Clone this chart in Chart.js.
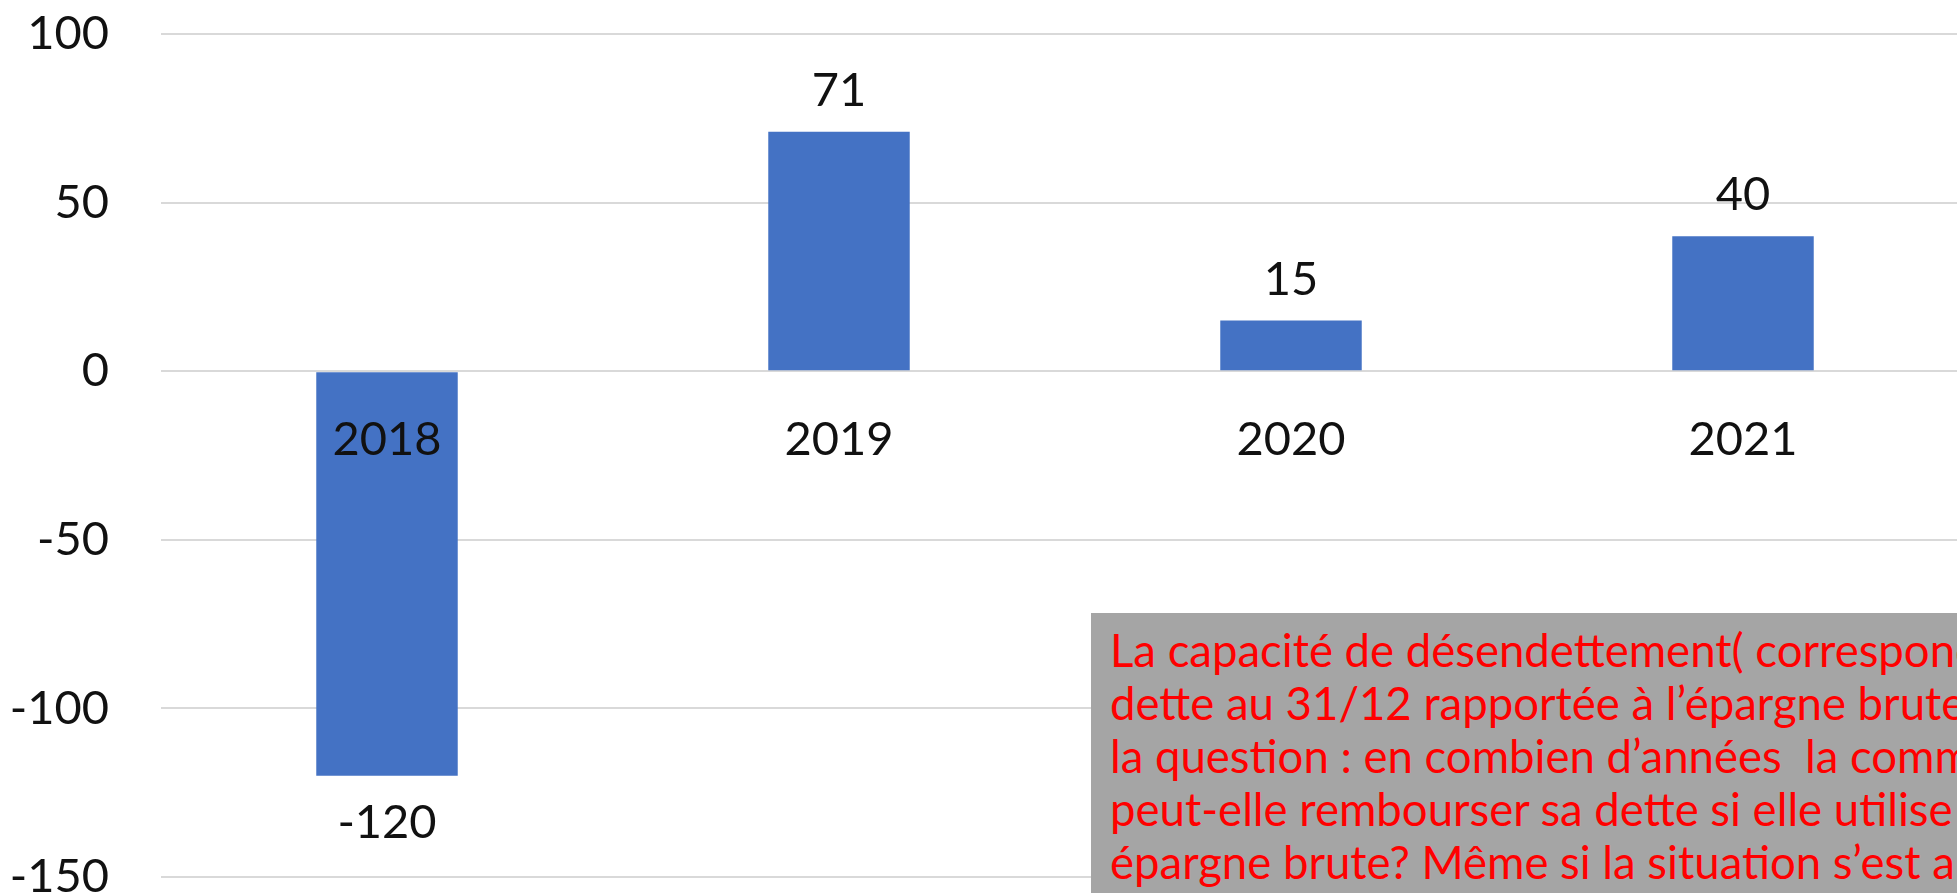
<!DOCTYPE html>
<html>
<head>
<meta charset="utf-8">
<script src="https://cdn.jsdelivr.net/npm/chart.js@4.4.0/dist/chart.umd.min.js"></script>
<style>
    html, body { margin: 0; padding: 0; background: #fff; overflow: hidden; }
    #wrap { position: relative; width: 1990px; height: 930px; }
    #note {
        position: absolute; left: 1091px; top: 613px; width: 1000px; height: 400px;
        background: #a5a5a5; color: #ff0000;
        font-family: Lato, sans-serif; font-size: 45.5px; line-height: 53px;
        padding: 10px 0 0 19px; box-sizing: border-box; white-space: pre;
    }
</style>
</head>
<body>
<div id="wrap">
    <canvas id="epargne-chart"></canvas>
    <div id="note">La capacité de désendettement( correspond
dette au 31/12 rapportée à l’épargne brute)
la question : en combien d’années  la commune
peut-elle rembourser sa dette si elle utilise son
épargne brute? Même si la situation s’est améliorée</div>
</div>
<script>
    // --- Values ---
    const years = ['2018', '2019', '2020', '2021'];
    const values = [-120, 71, 15, 40];

    // --- Value labels above / below each bar ---
    const valueLabels = {
        id: 'valueLabels',
        afterDatasetsDraw(chart) {
            const ctx = chart.ctx;
            const meta = chart.getDatasetMeta(0);
            ctx.save();
            ctx.font = '47px Lato';
            ctx.fillStyle = '#111';
            ctx.textAlign = 'center';
            ctx.textBaseline = 'alphabetic';
            meta.data.forEach(function(bar, i) {
                const v = values[i];
                const y = v >= 0 ? bar.y - 26 : bar.y + 62;
                ctx.fillText(String(v), bar.x, y);
            });
            ctx.restore();
        }
    };

    new Chart(document.getElementById('epargne-chart'), {
        type: 'bar',
        data: {
            labels: years,
            datasets: [{
                data: values,
                backgroundColor: '#4472c4',
                categoryPercentage: 1,
                barPercentage: 0.313
            }]
        },
        options: {
            responsive: true,
            maintainAspectRatio: false,
            animation: false,
            layout: { padding: { top: 34, right: 21, bottom: 53, left: 0 } },
            plugins: { legend: { display: false }, tooltip: { enabled: false } },
            scales: {
                x: {
                    position: { y: 0 },
                    grid: { display: false, drawTicks: false },
                    border: { display: false },
                    ticks: { z: 1, color: '#111', font: { family: 'Lato', size: 47 }, padding: 40, maxRotation: 0 }
                },
                y: {
                    min: -150,
                    max: 100,
                    grid: { color: '#d9d9d9', lineWidth: 2, drawTicks: true, tickLength: 52, tickColor: 'rgba(0,0,0,0)' },
                    border: { display: false },
                    ticks: { stepSize: 50, color: '#111', font: { family: 'Lato', size: 47 }, padding: 0 },
                    afterFit: function(scale) { scale.width = 161; }
                }
            }
        },
        plugins: [valueLabels]
    });
</script>
</body>
</html>
